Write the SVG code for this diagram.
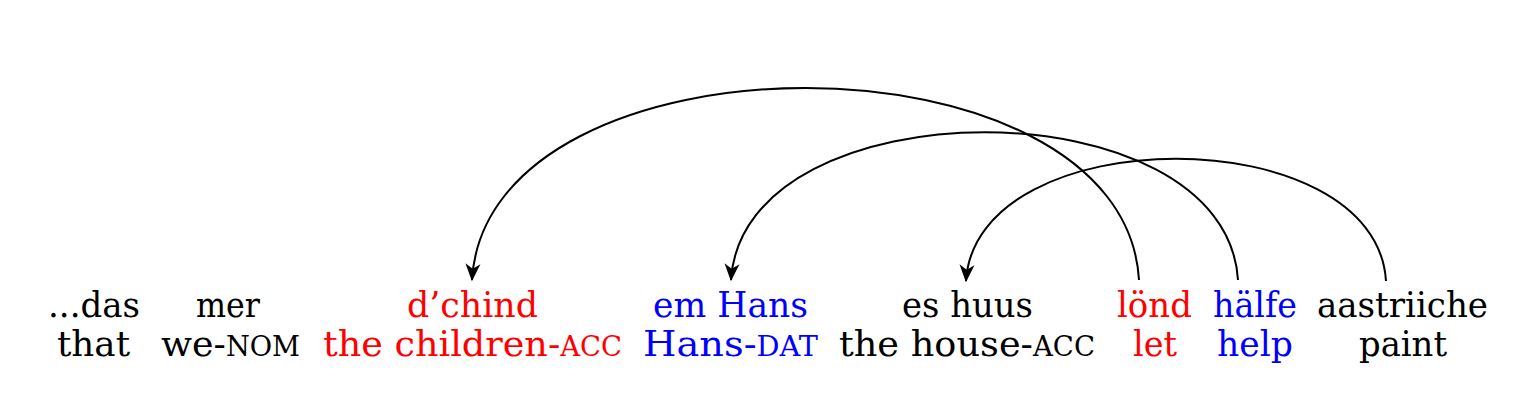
<svg xmlns="http://www.w3.org/2000/svg" width="1535" height="408" viewBox="0 0 1535 408">
<style>
text{font-size:36px;text-anchor:middle;fill:#000}
.r{fill:#ff0000}
.b{fill:#0000ff}
.sc{font-size:27px}
.arc{fill:none;stroke:#000;stroke-width:2;marker-end:url(#ah)}
</style>
<defs>
<marker id="ah" markerUnits="userSpaceOnUse" markerWidth="20" markerHeight="20" viewBox="-14 -8 16 16" refX="0" refY="0" orient="auto">
<path d="M1,0 L-13,-6 L-9,0 L-13,6 Z" fill="#000"/>
</marker>
</defs>
<rect width="1535" height="408" fill="#fff"/>
<g id="connectors">
<path class="arc" d="M1139,280 C1124,24 487,24 472,280"/>
<path class="arc" d="M1238,280 C1226,83 743,83 731,280"/>
<path class="arc" d="M1386,281 C1376,118 976,118 966,281"/>
</g>
<g font-family="DejaVu Serif, serif">
<g id="w1"><text x="94" y="317" textLength="92" lengthAdjust="spacingAndGlyphs">...das</text><text x="93.5" y="356" textLength="73" lengthAdjust="spacingAndGlyphs">that</text></g>
<g id="w2"><text x="228" y="317" textLength="64" lengthAdjust="spacingAndGlyphs">mer</text><text x="230.5" y="356" textLength="139" lengthAdjust="spacingAndGlyphs">we-<tspan class="sc">NOM</tspan></text></g>
<g id="w3"><text class="r" x="472.5" y="317" textLength="131" lengthAdjust="spacingAndGlyphs">d’chind</text><text class="r" x="472.5" y="356" textLength="299" lengthAdjust="spacingAndGlyphs">the children-<tspan class="sc">ACC</tspan></text></g>
<g id="w4"><text class="b" x="730.5" y="317" textLength="155" lengthAdjust="spacingAndGlyphs">em Hans</text><text class="b" x="730.5" y="356" textLength="175" lengthAdjust="spacingAndGlyphs">Hans-<tspan class="sc">DAT</tspan></text></g>
<g id="w5"><text x="967.5" y="317" textLength="131" lengthAdjust="spacingAndGlyphs">es huus</text><text x="967" y="356" textLength="256" lengthAdjust="spacingAndGlyphs">the house-<tspan class="sc">ACC</tspan></text></g>
<g id="w6"><text class="r" x="1154.5" y="317" textLength="75" lengthAdjust="spacingAndGlyphs">lönd</text><text class="r" x="1155" y="356" textLength="44" lengthAdjust="spacingAndGlyphs">let</text></g>
<g id="w7"><text class="b" x="1255" y="317" textLength="84" lengthAdjust="spacingAndGlyphs">hälfe</text><text class="b" x="1255" y="356" textLength="76" lengthAdjust="spacingAndGlyphs">help</text></g>
<g id="w8"><text x="1402.5" y="317" textLength="171" lengthAdjust="spacingAndGlyphs">aastriiche</text><text x="1403" y="356" textLength="88" lengthAdjust="spacingAndGlyphs">paint</text></g>
</g>
</svg>
